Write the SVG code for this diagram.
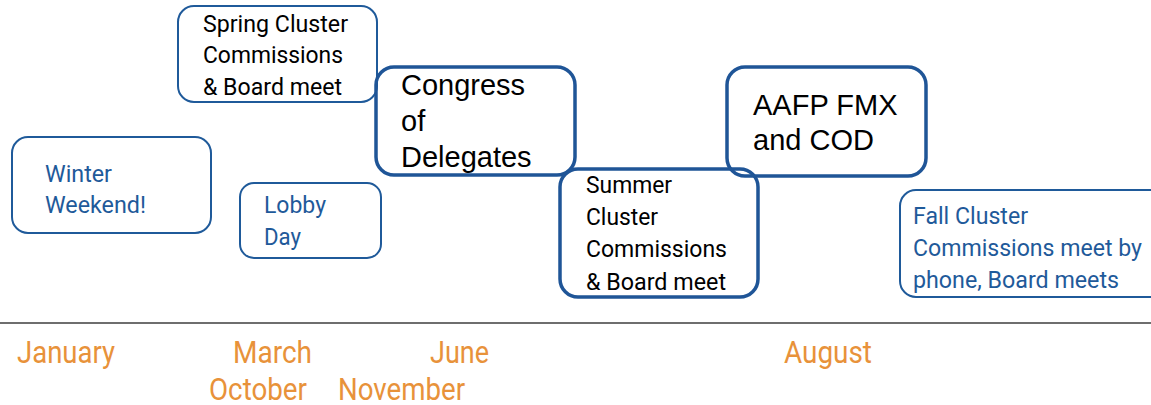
<svg xmlns="http://www.w3.org/2000/svg" width="1151" height="405" viewBox="0 0 1151 405">
<style>
.thin{fill:none;stroke:#1f5a9a;stroke-width:2}
.thick{fill:none;stroke:#1f5597;stroke-width:3.5}
.rc{font-family:Roboto,"Liberation Sans",sans-serif;font-size:24px}
.ar{font-family:"Liberation Sans",Arial,sans-serif;font-size:29px;fill:#000}
.blk{fill:#000}
.blu{fill:#1f5a9a}
.mon{font-family:Roboto,"Liberation Sans",sans-serif;font-size:32px;fill:#e8923a}
</style>
<rect width="1151" height="405" fill="#fff"/>
<g id="connectors">
<line x1="0" y1="323" x2="1151" y2="323" stroke="#6e6e6e" stroke-width="2"/>
</g>
<g id="winter">
<rect class="thin" x="12" y="137" width="199" height="96" rx="16"/>
<text class="rc blu"><tspan x="45" y="182" textLength="67" lengthAdjust="spacingAndGlyphs">Winter</tspan><tspan x="45" y="213" textLength="101" lengthAdjust="spacingAndGlyphs">Weekend!</tspan></text>
</g>
<g id="spring">
<rect class="thin" x="178" y="6" width="199" height="96" rx="16"/>
<text class="rc blk"><tspan x="203" y="32" textLength="145" lengthAdjust="spacingAndGlyphs">Spring Cluster</tspan><tspan x="203" y="63" textLength="140" lengthAdjust="spacingAndGlyphs">Commissions</tspan><tspan x="203" y="95" textLength="139" lengthAdjust="spacingAndGlyphs">&amp; Board meet</tspan></text>
</g>
<g id="lobby">
<rect class="thin" x="240" y="183" width="141" height="75" rx="14"/>
<text class="rc blu"><tspan x="264" y="213" textLength="62" lengthAdjust="spacingAndGlyphs">Lobby</tspan><tspan x="264" y="245" textLength="37" lengthAdjust="spacingAndGlyphs">Day</tspan></text>
</g>
<g id="congress">
<rect class="thick" x="376" y="67" width="199" height="108" rx="18"/>
<text class="ar"><tspan x="401" y="95">Congress</tspan><tspan x="401" y="131">of</tspan><tspan x="401" y="167">Delegates</tspan></text>
</g>
<g id="summer">
<rect class="thick" x="560" y="169" width="198" height="128" rx="18"/>
<text class="rc blk"><tspan x="586" y="193" textLength="86" lengthAdjust="spacingAndGlyphs">Summer</tspan><tspan x="586" y="225" textLength="72" lengthAdjust="spacingAndGlyphs">Cluster</tspan><tspan x="586" y="257" textLength="141" lengthAdjust="spacingAndGlyphs">Commissions</tspan><tspan x="586" y="290" textLength="140" lengthAdjust="spacingAndGlyphs">&amp; Board meet</tspan></text>
</g>
<g id="aafp">
<rect class="thick" x="727" y="67" width="199" height="109" rx="18"/>
<text class="ar"><tspan x="753" y="115">AAFP FMX</tspan><tspan x="753" y="150">and COD</tspan></text>
</g>
<g id="fall">
<rect class="thin" x="900" y="190" width="270" height="107" rx="16"/>
<text class="rc blu"><tspan x="913" y="224" textLength="115" lengthAdjust="spacingAndGlyphs">Fall Cluster</tspan><tspan x="913" y="256" textLength="229" lengthAdjust="spacingAndGlyphs">Commissions meet by</tspan><tspan x="913" y="288" textLength="206" lengthAdjust="spacingAndGlyphs">phone, Board meets</tspan></text>
</g>
<g id="months">
<text class="mon" x="17" y="363" textLength="98" lengthAdjust="spacingAndGlyphs">January</text>
<text class="mon" x="233" y="363" textLength="79" lengthAdjust="spacingAndGlyphs">March</text>
<text class="mon" x="430" y="363" textLength="59" lengthAdjust="spacingAndGlyphs">June</text>
<text class="mon" x="784" y="363" textLength="88" lengthAdjust="spacingAndGlyphs">August</text>
<text class="mon" x="209" y="400" textLength="98" lengthAdjust="spacingAndGlyphs">October</text>
<text class="mon" x="338" y="400" textLength="127" lengthAdjust="spacingAndGlyphs">November</text>
</g>
</svg>
